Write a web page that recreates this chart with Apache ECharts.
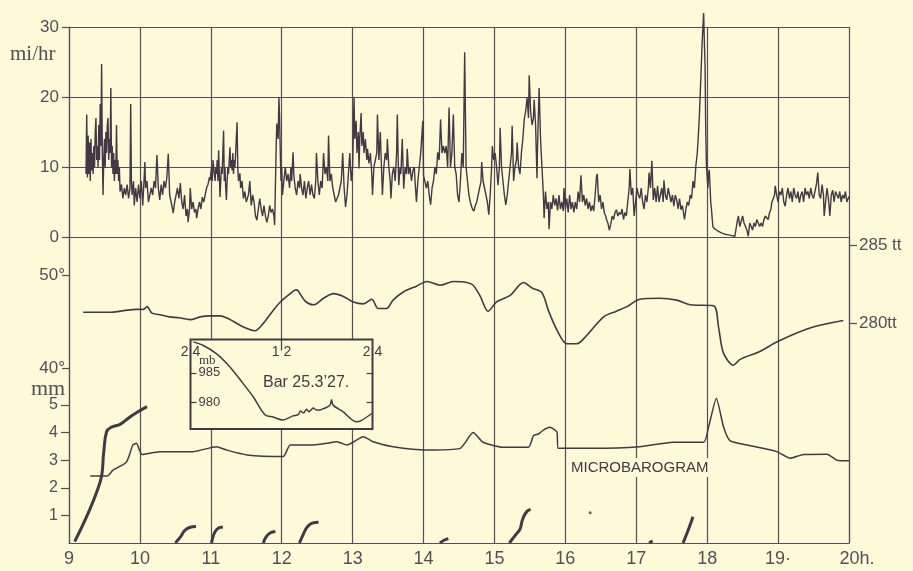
<!DOCTYPE html>
<html><head><meta charset="utf-8">
<script src="https://cdn.jsdelivr.net/npm/echarts@6/dist/echarts.min.js"></script>
<style>html,body{margin:0;padding:0;background:#fcfbd8;}#c{width:913px;height:571px;}</style>
</head><body><div id="c"></div>
<script>
// ---- DATA ----
const hourTicks = [9,10,11,12,13,14,15,16,17,18,19,20];
const hourLabels = ['9','10','11','12','13','14','15','16','17','18','19·','20h.'];

// wind speed (mi/hr), [hour, value]
const windData = [
[9.24,9],[9.25,17.5],[9.26,8.5],[9.27,14.5],[9.28,9],[9.29,13.5],[9.30,8],[9.31,14],[9.32,9.5],[9.33,12],[9.34,9],[9.35,13],[9.36,10],[9.37,15],[9.38,17],[9.39,11],[9.40,13],[9.41,10],[9.42,16],[9.43,11],[9.44,19],[9.45,13],[9.46,24.7],[9.47,12],[9.48,6],[9.49,11],[9.50,14],[9.51,10],[9.52,15],[9.53,12],[9.54,16],[9.55,17],[9.56,11],[9.57,14],[9.58,12],[9.59,21.3],[9.60,10],[9.61,13],[9.62,9],[9.63,12],[9.64,8],[9.65,11],[9.66,9],[9.67,16],[9.68,9],[9.69,11],[9.70,8],[9.71,10],[9.72,6.5],[9.74,7.5],[9.76,5.5],[9.78,7],[9.80,6],[9.82,7.5],[9.84,5.5],[9.86,7],[9.87,19],[9.88,8],[9.89,6],[9.91,8],[9.92,4.5],[9.94,7],[9.96,5],[9.98,7.5],[10.0,5.5],[10.02,8],[10.04,4.5],[10.06,8.5],[10.07,10.7],[10.08,7],[10.10,8],[10.12,5],[10.14,4.8],[10.16,7],[10.18,6],[10.20,8],[10.22,7],[10.24,11.7],[10.26,7],[10.28,5.3],[10.30,7.5],[10.32,6],[10.34,8],[10.36,7],[10.38,8.5],[10.40,11.9],[10.42,6],[10.44,5],[10.46,4],[10.47,3.4],[10.49,5],[10.51,6],[10.53,7],[10.55,5.5],[10.57,7.7],[10.59,5],[10.61,4],[10.63,6],[10.65,3],[10.67,4],[10.68,2.1],[10.70,4],[10.71,7],[10.73,4],[10.75,5],[10.77,3.5],[10.79,4],[10.80,2.7],[10.82,4],[10.84,5],[10.86,4],[10.88,5.7],[10.90,5],[10.92,6],[10.94,7],[10.96,7.5],[10.98,8.5],[10.99,8.1],[11.01,10],[11.02,8],[11.03,11],[11.04,11.2],[11.05,9],[11.06,8],[11.07,10],[11.08,9],[11.09,11],[11.10,8],[11.11,12.4],[11.12,9],[11.13,5.7],[11.14,8],[11.15,10],[11.16,9],[11.18,15.2],[11.19,8],[11.20,10],[11.21,7],[11.22,5.3],[11.23,8],[11.24,10],[11.25,9],[11.27,12.8],[11.28,10],[11.29,11],[11.30,9.5],[11.31,12],[11.32,9],[11.33,11],[11.34,10],[11.35,12],[11.37,16.4],[11.38,10],[11.39,8],[11.41,9.1],[11.42,7],[11.44,8],[11.46,5.5],[11.48,6.5],[11.50,5],[11.51,5.3],[11.53,6],[11.55,8],[11.57,4.5],[11.59,6],[11.61,5],[11.63,3],[11.65,2.4],[11.67,4],[11.69,5.5],[11.71,4],[11.73,3],[11.75,4.5],[11.77,3],[11.79,2.1],[11.81,3],[11.83,4.5],[11.85,3.5],[11.87,4],[11.89,3],[11.90,1.7],
[11.92,12],[11.93,16.2],[11.95,14],[11.96,19.9],[11.97,17],[11.98,12],[11.99,8],[12.00,10],[12.01,6],[12.03,8],[12.05,10],[12.07,8],[12.09,9],[12.11,7],[12.13,10],[12.14,8],[12.16,12.1],[12.17,9],[12.19,7],[12.21,6],[12.23,8],[12.25,7],[12.26,9],[12.28,7],[12.30,6],[12.32,8],[12.34,5.5],[12.36,7],[12.38,8],[12.40,6],[12.42,7.5],[12.44,6],[12.46,5.5],[12.48,8],[12.49,12],[12.51,8],[12.53,6],[12.55,8],[12.57,7],[12.59,12],[12.61,9],[12.63,10],[12.65,8],[12.66,14.5],[12.68,8],[12.70,9],[12.72,7],[12.74,6],[12.76,5],[12.78,4.8],[12.80,6],[12.82,7],[12.84,8],[12.86,12],[12.88,7],[12.90,4.3],[12.92,6],[12.94,9],[12.96,12],[12.98,8],[13.00,10],[13.02,20],[13.03,14],[13.05,16.6],[13.06,12],[13.08,15],[13.09,9.8],[13.10,14],[13.12,17.7],[13.13,13],[13.15,15],[13.16,12],[13.18,14],[13.20,11],[13.21,12.6],[13.23,10.5],[13.25,12],[13.27,9],[13.28,6],[13.30,10],[13.32,11],[13.34,12],[13.35,17.5],[13.37,11],[13.39,15],[13.40,12],[13.42,6],[13.44,10],[13.46,12],[13.48,11],[13.49,14],[13.51,10],[13.53,8],[13.54,5.5],[13.56,9],[13.58,10],[13.60,8],[13.62,12],[13.63,17.5],[13.65,7.4],[13.67,10],[13.68,9],[13.70,14],[13.72,6.9],[13.74,10],[13.76,9],[13.77,12.6],[13.79,9],[13.81,10],[13.83,8],[13.85,9.5],[13.87,10],[13.88,8],[13.90,5],[13.92,8],[13.94,10],[13.96,12],[13.99,16.6],[14.00,8.8],[14.02,9],[14.04,7],[14.06,8],[14.08,6],[14.10,4.6],[14.12,7],[14.14,8],[14.16,10],[14.18,9],[14.20,12.1],[14.22,11],[14.24,16.8],[14.26,12],[14.28,13],[14.30,12],[14.32,13],[14.34,10],[14.36,18.5],[14.38,10],[14.40,12],[14.42,17.5],[14.44,10],[14.46,9],[14.48,6],[14.50,5],[14.52,8],[14.54,12],[14.56,10],[14.58,26.4],[14.60,10],[14.62,8],[14.64,6],[14.66,5],[14.67,4.6],[14.69,4],[14.71,3.7],[14.73,4.5],[14.75,5],[14.77,6],[14.79,7],[14.81,7.9],[14.82,10.7],[14.84,8],[14.86,7],[14.88,6],[14.90,5],[14.92,3.2],[14.94,6],[14.96,10],[14.97,13],[14.99,11],[15.01,12],[15.03,10],[15.05,7.4],[15.07,10],[15.08,15.6],[15.10,10],[15.12,8],[15.14,6],[15.16,4.6],[15.18,6],[15.20,8],[15.22,10],[15.24,12],[15.25,15.9],[15.27,8],[15.29,10],[15.31,11],[15.32,13.5],[15.34,10],[15.36,9],[15.38,12],[15.40,14],[15.42,16.8],[15.44,18],[15.46,19.9],[15.48,17],[15.49,23.1],[15.51,18],[15.53,16],[15.55,17],[15.56,19.6],[15.58,16],[15.60,8.4],[15.61,14],[15.63,21.3],[15.65,14],[15.67,10],[15.69,6],[15.70,2.7],[15.72,6.5],[15.74,4],[15.76,5],[15.77,1.1],[15.79,5],[15.81,4],[15.83,6],[15.85,4.5],[15.87,5.5],[15.89,3.8],[15.91,6],[15.93,4],[15.95,5],[15.97,3.7],[15.98,7],[16.00,4],[16.02,5.5],[16.04,3.5],[16.06,6],[16.08,4],[16.10,5],[16.12,3.5],[16.14,5],[16.16,4],[16.18,6.5],[16.20,5],[16.22,8.8],[16.24,5],[16.26,6],[16.28,4.5],[16.30,5.5],[16.32,4],[16.34,5],[16.36,3.7],[16.38,4.5],[16.40,3.7],[16.42,6],[16.44,8.7],[16.45,9],[16.47,5],[16.49,6],[16.51,4],[16.53,5],[16.55,3.4],[16.57,3],[16.58,2.5],[16.60,2],[16.62,1],[16.64,1.8],[16.66,3],[16.68,2.5],[16.70,3.5],[16.72,3.9],[16.74,3],[16.76,3.5],[16.78,3.2],[16.80,4],[16.82,2.5],[16.84,3.5],[16.86,3],[16.88,5],[16.90,7],[16.91,9.7],[16.93,6],[16.95,7],[16.97,3],[16.99,5],[17.01,7],[17.03,6],[17.05,5.5],[17.07,7],[17.09,5],[17.11,4],[17.13,6],[17.15,5],[17.17,7],[17.18,9.2],[17.20,7],[17.22,10.9],[17.24,5.3],[17.26,7],[17.28,5],[17.30,7.3],[17.32,5],[17.34,4.8],[17.36,7],[17.38,5],[17.39,8.1],[17.41,6],[17.43,5.3],[17.45,7],[17.47,6.8],[17.49,5],[17.51,6],[17.53,4.4],[17.55,6],[17.57,5.3],[17.59,4],[17.61,5.5],[17.63,3.9],[17.65,4.5],[17.68,2.5],[17.70,4],[17.72,5],[17.74,4.5],[17.76,6],[17.78,5.5],[17.80,8],[17.82,7],[17.84,10.1],[17.86,12],[17.87,13.5],[17.89,17.3],[17.91,22.6],[17.93,28],[17.94,30],[17.95,32],[17.96,28],[17.97,24.5],[17.98,15],[17.99,10.1],[18.01,7],[18.02,9],[18.03,9.6],[18.05,5],[18.06,4],[18.08,1.5],[18.10,1.2],[18.13,1],[18.16,0.8],[18.20,0.6],[18.25,0.4],[18.30,0.3],[18.35,0.2],[18.39,0.1],[18.42,2],[18.44,3],[18.46,1.5],[18.48,1.5],[18.50,3],[18.52,2],[18.54,1.5],[18.56,1],[18.58,0.1],[18.60,2],[18.62,2],[18.64,1],[18.66,2],[18.68,1.5],[18.70,2.5],[18.72,2.5],[18.74,1.5],[18.76,2],[18.78,1.5],[18.80,2.5],[18.82,3],[18.84,3],[18.86,2.5],[18.88,3.5],[18.90,4],[18.91,4.9],[18.93,5],[18.95,6],[18.96,7.3],[18.98,6],[19.00,5],[19.02,6.5],[19.04,6],[19.06,7],[19.08,5],[19.10,4.4],[19.12,6],[19.14,7],[19.16,5.5],[19.18,6.5],[19.20,5],[19.22,7],[19.24,6],[19.26,5.5],[19.28,6.5],[19.30,4.9],[19.32,6],[19.34,6.5],[19.36,5],[19.38,7],[19.40,6],[19.42,6.5],[19.44,5.5],[19.46,7],[19.48,6],[19.50,5.5],[19.52,6.5],[19.54,7.5],[19.56,9.2],[19.58,6],[19.60,5.5],[19.62,7.5],[19.64,6],[19.65,3],[19.67,5],[19.69,7],[19.71,5.5],[19.73,3],[19.75,6],[19.77,6.7],[19.79,5],[19.81,6.5],[19.83,6],[19.85,5.5],[19.87,6.5],[19.89,5],[19.91,6],[19.93,5.5],[19.95,6.5],[19.97,5],[20.0,5.8]
];

// temperature (deg F), [hour, value]
const tempData = [[9.20,46.0],[9.40,46.0],[9.60,46.0],[9.80,46.2],[9.95,46.3],[10.05,46.3],[10.10,46.6],[10.17,45.9],[10.30,45.7],[10.42,45.5],[10.55,45.4],[10.71,45.2],[10.85,45.5],[10.99,45.6],[11.13,45.6],[11.22,45.4],[11.32,45.0],[11.46,44.4],[11.62,44.0],[11.74,44.8],[11.86,46.0],[11.98,47.1],[12.12,48.0],[12.20,48.4],[12.23,48.3],[12.33,47.2],[12.45,46.8],[12.59,47.5],[12.73,48.0],[12.87,47.7],[13.01,47.1],[13.15,46.9],[13.27,47.4],[13.36,46.4],[13.48,46.4],[13.57,47.3],[13.72,48.2],[13.90,48.8],[14.05,49.3],[14.23,48.9],[14.42,49.3],[14.61,49.2],[14.70,48.9],[14.80,47.7],[14.91,46.1],[15.03,47.1],[15.22,47.8],[15.41,49.2],[15.53,48.6],[15.67,48.1],[15.76,46.2],[15.88,44.1],[16.02,42.6],[16.16,42.6],[16.30,43.5],[16.54,45.5],[16.72,46.1],[16.87,46.6],[17.05,47.4],[17.33,47.5],[17.57,47.3],[17.76,46.8],[18.09,46.7],[18.16,44.4],[18.23,41.6],[18.37,40.3],[18.46,40.9],[18.75,41.8],[18.98,42.8],[19.45,44.3],[19.92,45.1]];

// microbarogram (mm), [hour, value]
const microData = [[9.30,2.43],[9.54,2.43],[9.62,2.64],[9.81,2.93],[9.90,3.55],[9.95,3.61],[10.03,3.21],[10.28,3.31],[10.75,3.31],[11.08,3.49],[11.22,3.37],[11.51,3.19],[12.02,3.13],[12.12,3.55],[12.40,3.55],[12.63,3.61],[12.78,3.67],[12.92,3.55],[13.15,3.85],[13.29,3.67],[13.57,3.49],[14.05,3.37],[14.51,3.42],[14.70,4.0],[14.84,3.65],[15.13,3.47],[15.48,3.47],[15.55,3.89],[15.62,3.95],[15.69,4.09],[15.78,4.19],[15.88,4.03],[15.90,3.43],[16.39,3.43],[17.05,3.49],[17.52,3.65],[17.95,3.65],[18.02,4.21],[18.13,5.24],[18.23,4.21],[18.32,3.71],[18.56,3.55],[18.98,3.31],[19.17,3.07],[19.36,3.21],[19.69,3.22],[19.83,3.0],[20.0,2.98]];

// rain gauge traces (mm), one list per pen stroke
const rainTraces = [
 [[9.08,0.05],[9.44,2.22],[9.49,3.3],[9.53,4.03],[9.60,4.2],[9.72,4.3],[9.85,4.55],[9.95,4.72],[10.10,4.94]],
 [[10.50,0],[10.58,0.25],[10.63,0.45],[10.71,0.57],[10.79,0.6]],
 [[11.01,0],[11.04,0.3],[11.08,0.48],[11.14,0.57],[11.17,0.57]],
 [[11.74,0],[11.78,0.22],[11.84,0.37],[11.91,0.42]],
 [[12.25,0],[12.31,0.35],[12.36,0.58],[12.43,0.72],[12.52,0.75]],
 [[14.23,0],[14.29,0.1],[14.35,0.16]],
 [[15.21,0],[15.30,0.3],[15.36,0.5],[15.39,0.8],[15.42,1.0],[15.47,1.17],[15.51,1.22]],
 [[17.18,0],[17.23,0.08]],
 [[17.66,0],[17.73,0.45],[17.80,0.95]]
];
const rainDot = [[16.35,1.1]];

// inset barograph (mb) over 24 h
const insetData = [[0.37,990.2],[1.69,989.6],[3.45,988.2],[5.2,986.0],[6.95,983.2],[8.27,981.0],[9.81,978.0],[10.9,977.6],[12.2,977.1],[13.5,977.8],[14.2,978.0],[14.5,978.6],[14.9,978.3],[15.3,978.9],[15.6,978.5],[16.2,979.1],[16.6,978.8],[17.1,978.8],[17.5,979.0],[17.9,979.2],[18.4,979.6],[18.6,980.5],[18.8,979.6],[20.1,978.5],[21.9,976.8],[22.5,977.0],[23.9,978.2]];

const tempTicks = [40,50];
const mmTicks = [1,2,3,4,5];
const ttTicks = [280,285];
const insetTicks = [980,985];

// ---- STYLE ----
const BG = '#fcfbd8';
const INK = '#463746';
const GRID = '#5a4a5a';
const LBL = '#5a4b5a';
const SANS = 'Liberation Sans';

const chart = echarts.init(document.getElementById('c'), null, {renderer:'canvas'});

const lineStyleGrid = {color: GRID, width: 1.2};
const series = [];
series.push({type:'line', xAxisIndex:0, yAxisIndex:0, data: windData, showSymbol:false, clip:false,
  lineStyle:{color:INK, width:1.4}, z:3});
series.push({type:'line', xAxisIndex:1, yAxisIndex:1, data: tempData, showSymbol:false, smooth:0.3,
  lineStyle:{color:INK, width:1.6}, z:3});
series.push({type:'line', xAxisIndex:1, yAxisIndex:2, data: microData, showSymbol:false, smooth:0.2,
  lineStyle:{color:INK, width:1.5}, z:3});
rainTraces.forEach(tr => series.push({type:'line', xAxisIndex:1, yAxisIndex:2, data: tr, showSymbol:false, smooth:0.4,
  lineStyle:{color:INK, width:3}, z:3}));
series.push({type:'scatter', xAxisIndex:1, yAxisIndex:2, data: rainDot, symbolSize:3, itemStyle:{color:INK}, z:3});
series.push({type:'line', xAxisIndex:2, yAxisIndex:4, data: insetData, showSymbol:false, smooth:0.3,
  lineStyle:{color:INK, width:1.5}, z:12});

const option = {
  backgroundColor: BG,
  animation: false,
  grid: [
    {left:69, top:27, width:780, height:210},
    {left:69, top:237, width:780, height:306},
    {left:190.5, top:339.5, width:182, height:89.5, show:true, backgroundColor:BG, borderColor:INK, borderWidth:2, z:10}
  ],
  xAxis: [
    {type:'value', gridIndex:0, min:9, max:20, interval:1,
      axisLine:{show:true, onZero:false, lineStyle:lineStyleGrid}, axisTick:{show:false}, axisLabel:{show:false},
      splitLine:{show:true, lineStyle:lineStyleGrid}},
    {type:'value', gridIndex:1, min:9, max:20, interval:1,
      axisLine:{show:true, onZero:false, lineStyle:lineStyleGrid}, axisTick:{show:false},
      axisLabel:{show:true, fontSize:18, fontFamily:SANS, color:LBL, margin:7,
        formatter: v => {
          const s = hourLabels[hourTicks.indexOf(Math.round(v))] || '';
          return Math.round(v) === 20 ? '{e|' + s + '}' : s;
        },
        rich:{e:{fontSize:18, fontFamily:SANS, color:LBL, padding:[0,0,0,16]}}},
      splitLine:{show:true, lineStyle:lineStyleGrid}},
    {type:'value', gridIndex:2, position:'top', min:0, max:24, z:11,
      axisLine:{show:false},
      axisTick:{show:true, inside:true, length:11, customValues:[12], lineStyle:{color:INK, width:1.2}},
      axisLabel:{show:true, inside:true, customValues:[0,12,24], margin:6, fontSize:14, fontFamily:SANS, color:INK,
        formatter: v => v === 12 ? '1 2' : '2 4'},
      splitLine:{show:false}}
  ],
  yAxis: [
    {type:'value', gridIndex:0, min:0, max:30, interval:10,
      axisLine:{show:true, lineStyle:lineStyleGrid}, axisTick:{show:true, length:7, lineStyle:lineStyleGrid},
      axisLabel:{fontSize:17, fontFamily:SANS, color:LBL, margin:10},
      splitLine:{show:true, lineStyle:lineStyleGrid}},
    {type:'value', gridIndex:1, min:21.183, max:54.086, position:'left',
      axisLine:{show:true, lineStyle:lineStyleGrid},
      axisTick:{show:true, length:7, customValues:tempTicks, lineStyle:lineStyleGrid},
      axisLabel:{show:true, customValues:tempTicks, fontSize:17, fontFamily:SANS, color:LBL, margin:4,
        formatter: v => v + '°'},
      splitLine:{show:false}},
    {type:'value', gridIndex:1, min:0, max:11.087, position:'left',
      axisLine:{show:false},
      axisTick:{show:true, length:8, customValues:mmTicks, lineStyle:lineStyleGrid},
      axisLabel:{show:true, customValues:mmTicks, fontSize:16, fontFamily:SANS, color:LBL, margin:11},
      splitLine:{show:false}},
    {type:'value', gridIndex:1, min:265.897, max:285.513, position:'right',
      axisLine:{show:true, lineStyle:lineStyleGrid},
      axisTick:{show:true, length:8, customValues:ttTicks, lineStyle:lineStyleGrid},
      axisLabel:{show:true, customValues:ttTicks, fontSize:17, fontFamily:SANS, color:LBL, margin:10,
        formatter: v => v === 285 ? '285 tt' : '280tt'},
      splitLine:{show:false}},
    {type:'value', gridIndex:2, min:975.6, max:990.6, position:'left', z:11,
      axisLine:{show:false},
      axisTick:{show:true, inside:true, length:6, customValues:insetTicks, lineStyle:{color:INK, width:1.2}},
      axisLabel:{show:true, inside:true, customValues:insetTicks, fontSize:13, fontFamily:SANS, color:INK, margin:8},
      splitLine:{show:false}},
    {type:'value', gridIndex:2, min:975.6, max:990.6, position:'right', z:11,
      axisLine:{show:false},
      axisTick:{show:true, inside:true, length:6, customValues:insetTicks, lineStyle:{color:INK, width:1.2}},
      axisLabel:{show:false},
      splitLine:{show:false}}
  ],
  graphic: [
    {type:'text', left:10, top:44, z:20, style:{text:'mi/hr', font:'21px "Liberation Serif"', fill:LBL}},
    {type:'text', left:31, top:378, z:20, style:{text:'mm', font:'22px "Liberation Serif"', fill:LBL}},
    {type:'text', left:199, top:354, z:20, style:{text:'mb', font:'13px "Liberation Serif"', fill:INK}},
    {type:'text', left:263, top:375, z:20, style:{text:'Bar 25.3’27.', font:'16px "Liberation Sans"', fill:INK}},
    {type:'text', left:569, top:458, z:20, style:{text:'MICROBAROGRAM', font:'15px "Liberation Sans"', fill:INK,
      backgroundColor:BG, padding:[2,2,2,2]}}
  ],
  series: series
};
chart.setOption(option);
</script>
</body></html>
